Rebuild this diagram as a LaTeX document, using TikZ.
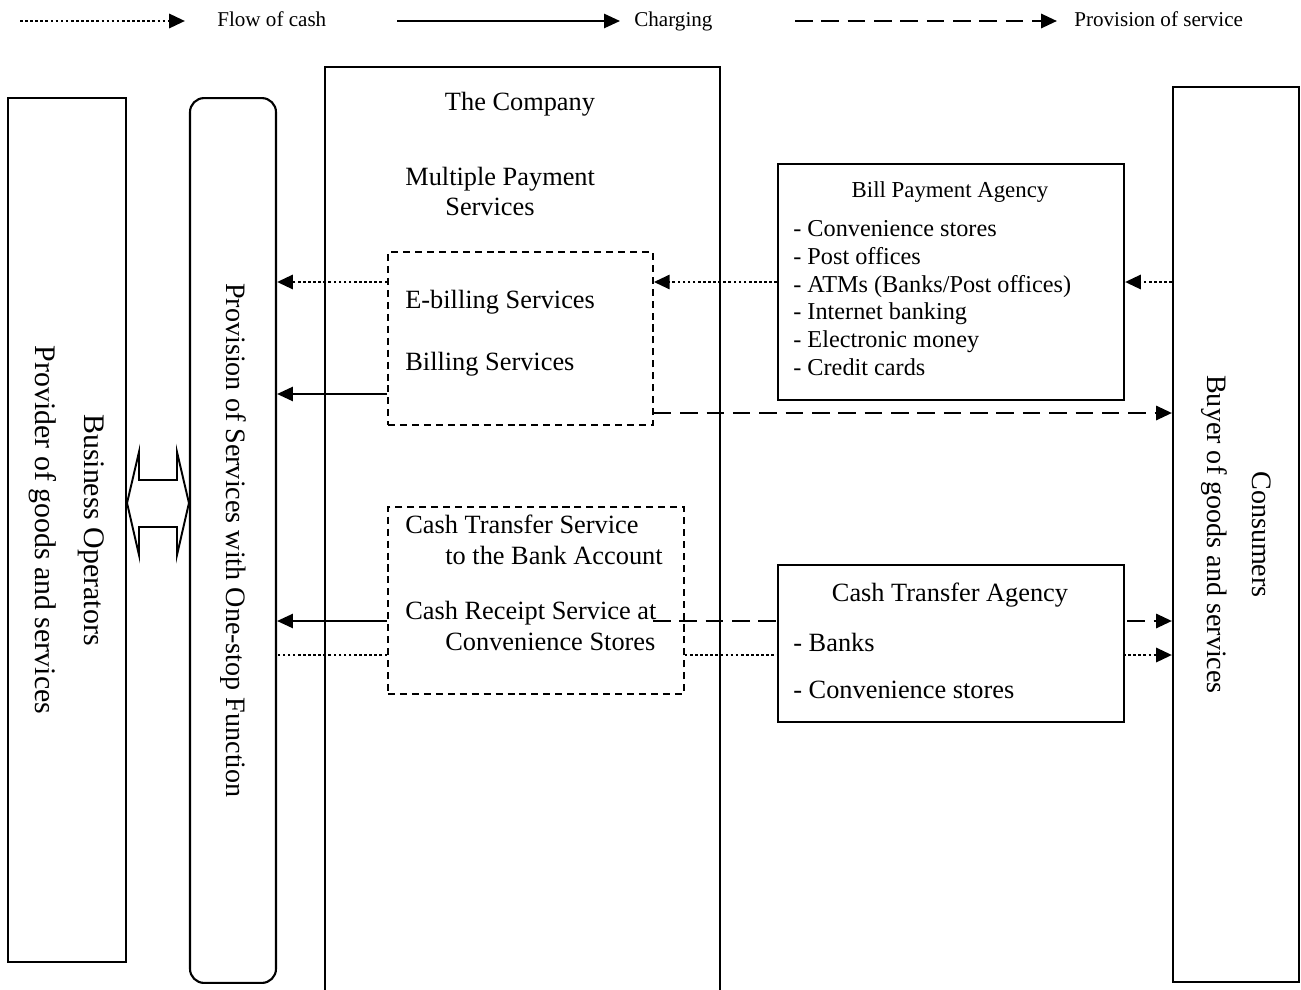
\documentclass[tikz,border=0pt]{standalone}
\usepackage{fontspec}
\setmainfont{Liberation Serif}
\usetikzlibrary{arrows.meta}
\tikzset{
  box/.style={draw,line width=1.2pt,inner sep=0pt},
  dbox/.style={draw,line width=1pt,dash pattern=on 4pt off 2.8pt,inner sep=0pt},
  cash/.style={line width=1.6pt,dash pattern=on 1.5pt off 1.4pt},
  charge/.style={line width=1.2pt},
  serv/.style={line width=1.5pt,dash pattern=on 10pt off 5pt},
  tip/.style={-{Triangle[length=9pt,width=8pt]}},
  txt/.style={inner sep=0pt,anchor=west,align=left},
  keytxt/.style={inner sep=0pt,anchor=base west,font=\fontsize{12}{14}\selectfont}
}

\begin{document}
\begin{tikzpicture}[x=0.02cm,y=-0.02cm,font=\fontsize{15}{17.6}\selectfont]
 \useasboundingbox (0,0) rectangle (1301,990);
 % legend
 \coordinate (k1) at (20,21);
 \coordinate (k2) at (397,21);
 \coordinate (k3) at (795,21);
 \node[keytxt] (kcash) at (217,27) {Flow of cash};
 \node[keytxt] (kcharge) at (634,27) {Charging};
 \node[keytxt] (kserv) at (1074,27) {Provision of service};
 \draw[cash,tip,shorten >=0.64cm] (k1) -- (k1 -| kcash.west);
 \draw[charge,tip,shorten >=0.28cm] (k2) -- (k2 -| kcharge.west);
 \draw[serv,tip,shorten >=0.34cm] (k3) -- (k3 -| kserv.west);

 % outer boxes
 \node[box,rotate=-90,minimum width=17.3cm,minimum height=2.36cm,align=center,font=\fontsize{17}{28}\selectfont] (busi) at (67,530) {Business Operators\\Provider of goods and services};
 \node[box,rounded corners=8pt,rotate=-90,minimum width=17.7cm,minimum height=1.72cm,font=\fontsize{16}{19}\selectfont] (prov) at (233,540.5) {Provision of Services with One-stop Function};
 \node[box,minimum width=7.9cm,minimum height=18.86cm] (comp) at (522.5,538.5) {};
 \node[box,rotate=-90,minimum width=17.9cm,minimum height=2.52cm,align=center,font=\fontsize{16}{25.5}\selectfont] (cons) at (1236,534.5) {Consumers\\Buyer of goods and services};
 \draw[line width=1.1pt,fill=white] (busi.north |- 0,503) -- (139,452) -- (139,480) -- (177,480) -- (177,452) -- (prov.south |- 0,503) -- (177,555) -- (177,527) -- (139,527) -- (139,555) -- cycle;

 % the company
 \node (ttl) at (520,104) {The Company};
 \node[txt] (mps) at (405,191.5) {Multiple Payment\\\hspace*{0.8cm}Services};
 \node[dbox,minimum width=5.3cm,minimum height=3.46cm] (ebox) at (520.5,338.5) {};
 \node[dbox,minimum width=5.92cm,minimum height=3.74cm] (cbox) at (536,600.5) {};
 \node[txt] (ebill) at (405,302) {E-billing Services};
 \node[txt] (bsrv) at (405,364) {Billing Services};
 \node[txt] (cts) at (405,540) {Cash Transfer Service\\\hspace*{0.8cm}to the Bank Account};
 \node[txt] (crs) at (405,626) {Cash Receipt Service at\\\hspace*{0.8cm}Convenience Stores};

 % agencies
 \node[box,fill=white,minimum width=6.92cm,minimum height=4.72cm] (bill) at (951,282) {};
 \node[font=\fontsize{13}{15}\selectfont] (billttl) at (950,192) {Bill Payment Agency};
 \node[txt,font=\fontsize{13.8}{15.75}\selectfont] (billlist) at (793,298) {- Convenience stores\\- Post offices\\- ATMs (Banks/Post offices)\\- Internet banking\\- Electronic money\\- Credit cards};
 \coordinate (atend) at (653,621);
 \draw[serv,tip] (atend) -- (cons.south |- 0,621);
 \draw[cash,tip] (cbox.east |- 0,655) -- (cons.south |- 0,655);
 \node[box,fill=white,minimum width=6.92cm,minimum height=3.14cm] (ctag) at (951,643.5) {};
 \node (ctagttl) at (950,595) {Cash Transfer Agency};
 \node[txt] (banks) at (793,642) {- Banks};
 \node[txt] (cvs) at (793,690) {- Convenience stores};

 % flows
 \draw[cash,tip] (ebox.west |- 0,282) -- (prov.north |- 0,282);
 \draw[charge,tip] (ebox.west |- 0,394) -- (prov.north |- 0,394);
 \draw[cash,tip] (bill.west |- 0,282) -- (ebox.east |- 0,282);
 \draw[cash,tip] (cons.south |- 0,282) -- (bill.east |- 0,282);
 \draw[serv,tip] (ebox.east |- 0,413) -- (cons.south |- 0,413);
 \draw[charge,tip] (cbox.west |- 0,621) -- (prov.north |- 0,621);
 \draw[cash] (cbox.west |- 0,655) -- (prov.north |- 0,655);
\end{tikzpicture}
\end{document}
